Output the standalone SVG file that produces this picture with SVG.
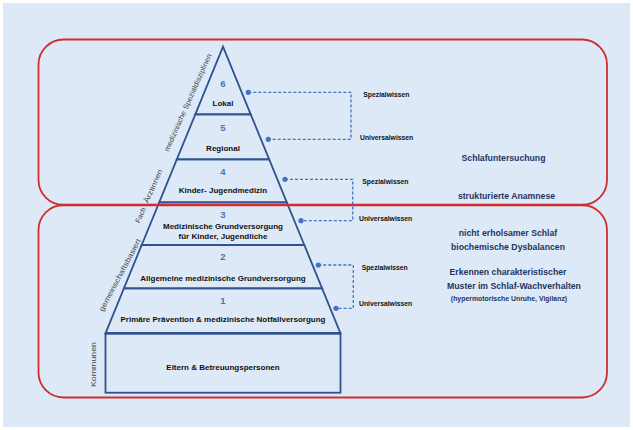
<svg xmlns="http://www.w3.org/2000/svg" width="633" height="430" viewBox="0 0 633 430">
  <style>
    .tier { fill: none; stroke: #2f5290; stroke-width: 1.8; stroke-linejoin: miter; }
    .num { font-family: "Liberation Sans", Arial, sans-serif; font-weight: bold; font-size: 9.5px; fill: #4a72c0; text-anchor: middle; }
    .lbl { font-family: "Liberation Sans", Arial, sans-serif; font-weight: bold; font-size: 8px; fill: #111; text-anchor: middle; }
    .side { font-family: "Liberation Sans", Arial, sans-serif; font-size: 7.2px; fill: #444; }
    .know { font-family: "Liberation Sans", Arial, sans-serif; font-weight: bold; font-size: 6.8px; fill: #111; }
    .note { font-family: "Liberation Sans", Arial, sans-serif; font-weight: bold; font-size: 8.7px; fill: #1f3560; text-anchor: middle; }
    .small { font-size: 6.9px; }
    .link { fill: none; stroke: #4472c4; stroke-width: 1.3; stroke-dasharray: 3 2; }
    .dot { fill: #4472c4; }
    .frame { fill: none; stroke: #d02e2e; stroke-width: 1.8; }
  </style>

  <!-- background panel -->
  <rect x="0" y="0" width="633" height="430" fill="#ffffff"/>
  <rect x="3" y="3" width="627" height="424" fill="#dde9f7"/>

  <!-- pyramid tiers -->
  <g id="tier6">
    <polygon class="tier" points="223,46.7 250.7,114.3 195.3,114.3"/>
    <text class="num" x="223" y="87">6</text>
    <text class="lbl" x="223" y="105.5">Lokal</text>
  </g>
  <g id="tier5">
    <polygon class="tier" points="195.3,114.3 250.7,114.3 269.2,159.3 176.8,159.3"/>
    <text class="num" x="223" y="130.5">5</text>
    <text class="lbl" x="223" y="151">Regional</text>
  </g>
  <g id="tier4">
    <polygon class="tier" points="176.8,159.3 269.2,159.3 286.8,202.3 159.2,202.3"/>
    <text class="num" x="223" y="175">4</text>
    <text class="lbl" x="223" y="192.8">Kinder- Jugendmedizin</text>
  </g>
  <g id="tier3">
    <polygon class="tier" points="159.2,202.3 286.8,202.3 304.3,245 141.7,245"/>
    <text class="num" x="223" y="217.5">3</text>
    <text class="lbl" x="223" y="228.6">Medizinische Grundversorgung</text>
    <text class="lbl" x="223" y="238.6">für Kinder, Jugendliche</text>
  </g>
  <g id="tier2">
    <polygon class="tier" points="141.7,245 304.3,245 322.1,288.3 123.9,288.3"/>
    <text class="num" x="223" y="260">2</text>
    <text class="lbl" x="223" y="281.2">Allgemeine medizinische Grundversorgung</text>
  </g>
  <g id="tier1">
    <polygon class="tier" points="123.9,288.3 322.1,288.3 340.5,333.3 105.5,333.3"/>
    <text class="num" x="223" y="304.3">1</text>
    <text class="lbl" x="223" y="322.2">Primäre Prävention &amp; medizinische Notfallversorgung</text>
  </g>
  <g id="base">
    <rect class="tier" x="105.5" y="333.3" width="235" height="59.4"/>
    <line x1="105.5" y1="333.3" x2="340.5" y2="333.3" stroke="#2f5290" stroke-width="2.6"/>
    <text class="lbl" x="223" y="369.5">Eltern &amp; Betreuungspersonen</text>
  </g>

  <!-- level captions along the left edge -->
  <g id="side-labels">
    <text class="side" transform="translate(168.5,152) rotate(-66)" textLength="106" lengthAdjust="spacingAndGlyphs">medizinische Spezialdisziplinen</text>
    <text class="side" transform="translate(139.5,223.5) rotate(-66)" textLength="16" lengthAdjust="spacingAndGlyphs">Fach</text>
    <text class="side" transform="translate(148,203.5) rotate(-66)" textLength="36" lengthAdjust="spacingAndGlyphs">Ärztinnen</text>
    <text class="side" transform="translate(103,312) rotate(-62)" textLength="81" lengthAdjust="spacingAndGlyphs">gemeinschaftsbasiert</text>
    <text class="side" transform="translate(96,387) rotate(-90)" textLength="45" lengthAdjust="spacingAndGlyphs">Kommunen</text>
  </g>

  <!-- knowledge brackets -->
  <g id="connectors">
    <path class="link" d="M248.3,92.3 H351 V139.3 H268.3"/>
    <circle class="dot" cx="248.3" cy="92.3" r="2.6"/>
    <circle class="dot" cx="268.3" cy="139.3" r="2.6"/>
    <path class="link" d="M285,179.3 H352.7 V220.7 H301"/>
    <circle class="dot" cx="285" cy="179.3" r="2.6"/>
    <circle class="dot" cx="301" cy="220.7" r="2.6"/>
    <path class="link" d="M318.3,265 H353.3 V308.3 H336"/>
    <circle class="dot" cx="318.3" cy="265" r="2.6"/>
    <circle class="dot" cx="336" cy="308.3" r="2.6"/>
  </g>
  <g id="knowledge-labels">
    <text class="know" x="363.3" y="97.4">Spezialwissen</text>
    <text class="know" x="360" y="139.7">Universalwissen</text>
    <text class="know" x="362.3" y="184.1">Spezialwissen</text>
    <text class="know" x="359" y="220.7">Universalwissen</text>
    <text class="know" x="361.7" y="269.7">Spezialwissen</text>
    <text class="know" x="359" y="305.7">Universalwissen</text>
  </g>

  <!-- diagnostic notes -->
  <g id="notes-upper">
    <text class="note" x="503.5" y="161.3">Schlafuntersuchung</text>
    <text class="note" x="506.5" y="198.7">strukturierte Anamnese</text>
  </g>
  <g id="notes-lower">
    <text class="note" x="508" y="236.3">nicht erholsamer Schlaf</text>
    <text class="note" x="508" y="249.7">biochemische Dysbalancen</text>
    <text class="note" x="508" y="274.7">Erkennen charakteristischer</text>
    <text class="note" x="514" y="288.7">Muster im Schlaf-Wachverhalten</text>
    <text class="note small" x="509" y="300.8">(hypermotorische Unruhe, Vigilanz)</text>
  </g>

  <!-- red frames -->
  <g id="frames">
    <rect class="frame" x="38.5" y="39.5" width="568.5" height="165.5" rx="25" ry="25"/>
    <rect class="frame" x="38.5" y="205" width="568.5" height="192.5" rx="25" ry="25"/>
    <line x1="60" y1="205" x2="585" y2="205" stroke="#d02e2e" stroke-width="2.6"/>
  </g>
</svg>
